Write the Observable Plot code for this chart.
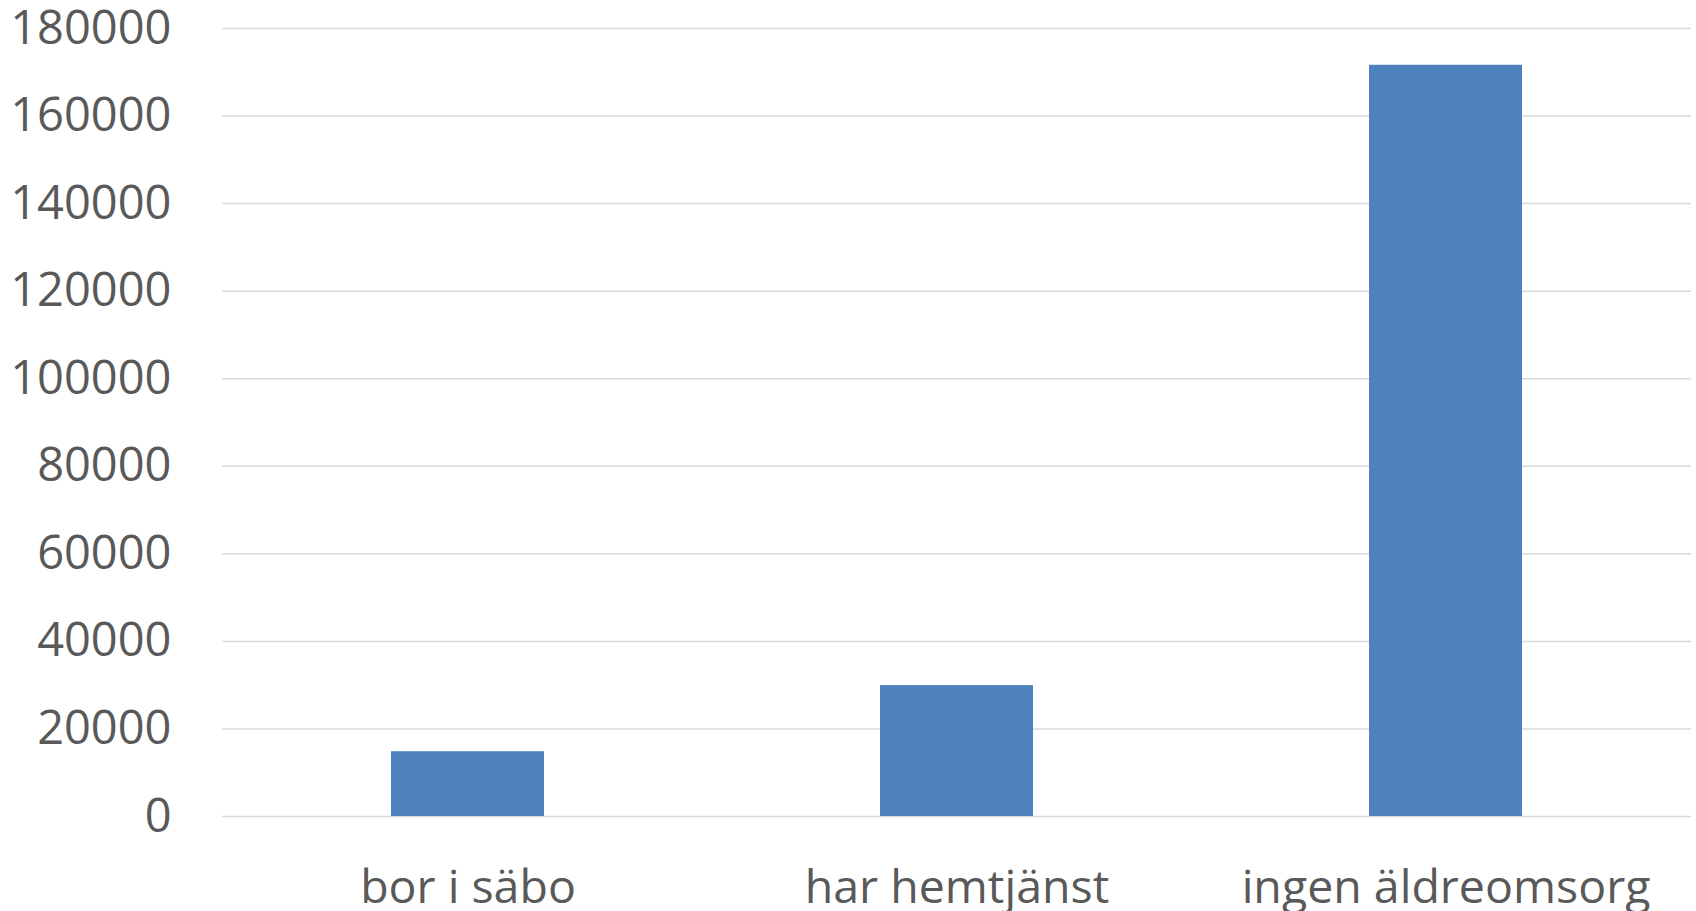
<!DOCTYPE html>
<html>
<head>
<meta charset="utf-8">
<script src="https://cdn.jsdelivr.net/npm/d3@7"></script>
<script src="https://cdn.jsdelivr.net/npm/@observablehq/plot@0.6"></script>
<style>
  html, body { margin: 0; padding: 0; background: #fff; }
  #chart svg { display: block; }
</style>
</head>
<body>
<div id="chart"></div>
<script>
const categories = ["bor i säbo", "har hemtjänst", "ingen äldreomsorg"];
const values = [14800, 29900, 171600];
const yTicks = [0, 20000, 40000, 60000, 80000, 100000, 120000, 140000, 160000, 180000];

const data = categories.map((c, i) => ({category: c, value: values[i]}));

const chart = Plot.plot({
  width: 1696,
  height: 911,
  marginLeft: 222,
  marginRight: 5,
  marginTop: 28,
  marginBottom: 95,
  style: {fontFamily: "'Open Sans', sans-serif", color: "#595959", background: "#fff"},
  x: {domain: categories, paddingInner: 0.6875, paddingOuter: 0.34375, label: null},
  y: {domain: [0, 180000], label: null},
  marks: [
    Plot.ruleY(yTicks, {stroke: "#d9d9d9", strokeWidth: 1.5}),
    Plot.barY(data, {x: "category", y: "value", fill: "#4f81bd"}),
    Plot.axisY({ticks: yTicks, tickSize: 0, tickPadding: 51, tickFormat: d => String(d), fontSize: 47, fill: "#595959", label: null}),
    Plot.axisX({tickSize: 0, tickPadding: 53, fontSize: 46.5, fill: "#595959", label: null})
  ]
});
document.getElementById("chart").appendChild(chart);
</script>
</body>
</html>
